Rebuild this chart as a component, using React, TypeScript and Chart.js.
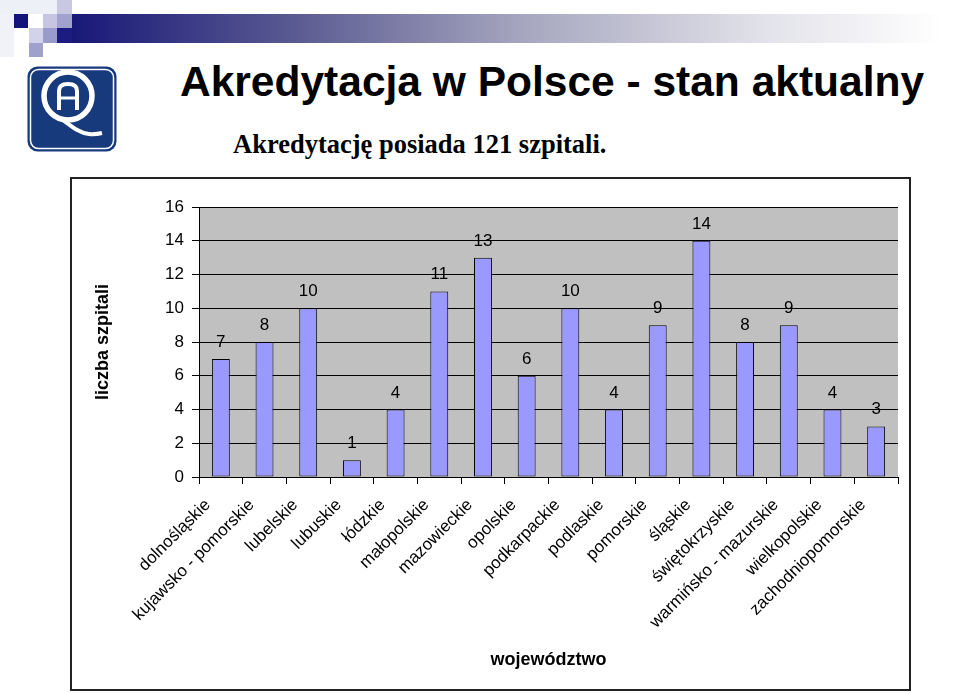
import React, { useEffect, useRef } from "react";
import { Chart, registerables } from "chart.js";

Chart.register(...registerables);

const categories = [
  "dolnośląskie",
  "kujawsko - pomorskie",
  "lubelskie",
  "lubuskie",
  "łódzkie",
  "małopolskie",
  "mazowieckie",
  "opolskie",
  "podkarpackie",
  "podlaskie",
  "pomorskie",
  "śląskie",
  "świętokrzyskie",
  "warmińsko - mazurskie",
  "wielkopolskie",
  "zachodniopomorskie",
];
const hospitals = [7, 8, 10, 1, 4, 11, 13, 6, 10, 4, 9, 14, 8, 9, 4, 3];
const yTicks = [0, 2, 4, 6, 8, 10, 12, 14, 16];

const FONT = "'Liberation Sans', Arial, sans-serif";

const labelPlugin = {
  id: "barValueLabels",
  afterDatasetsDraw(chart: any) {
    const ctx = chart.ctx;
    const meta = chart.getDatasetMeta(0);
    const data = chart.data.datasets[0].data;
    ctx.save();
    ctx.font = "17px " + FONT;
    ctx.fillStyle = "#000";
    ctx.textAlign = "center";
    ctx.textBaseline = "alphabetic";
    meta.data.forEach((el: any, i: number) => {
      ctx.fillText(String(data[i]), el.x, el.y - 12);
    });
    ctx.restore();
  },
};

function BarChart() {
  const ref = useRef<HTMLCanvasElement | null>(null);
  useEffect(() => {
    if (!ref.current) return;
    Chart.defaults.font.family = FONT;
    const chart = new Chart(ref.current, {
      type: "bar",
      data: {
        labels: categories,
        datasets: [
          {
            data: hospitals,
            backgroundColor: "#9999ff",
            borderColor: "#000000",
            borderWidth: 1,
            borderSkipped: false,
            barPercentage: 0.41,
            categoryPercentage: 1,
          },
        ],
      },
      options: {
        animation: false,
        responsive: false,
        maintainAspectRatio: false,
        layout: { padding: { left: 16, top: 28, right: 11, bottom: 14 } },
        plugins: {
          legend: { display: false },
          tooltip: { enabled: false },
        },
        scales: {
          x: {
            afterFit: (s: any) => {
              s.height = 198;
            },
            grid: {
              display: true,
              drawOnChartArea: false,
              drawTicks: true,
              tickLength: 7,
              color: "#000",
              tickColor: "#000",
            },
            border: { display: true, color: "#000", width: 1 },
            ticks: {
              autoSkip: false,
              maxRotation: 45,
              minRotation: 45,
              labelOffset: -13,
              padding: 11,
              color: "#000",
              font: { size: 17, family: FONT },
            },
            title: {
              display: true,
              text: "województwo",
              color: "#000",
              font: { size: 18, weight: "bold", family: FONT },
            },
          },
          y: {
            min: 0,
            max: 16,
            afterFit: (s: any) => {
              s.width = 111;
            },
            afterBuildTicks: (s: any) => {
              s.ticks = yTicks.map((v) => ({ value: v }));
            },
            grid: {
              color: "#000",
              tickColor: "#000",
              lineWidth: 1,
              tickLength: 7,
            },
            border: { display: true, color: "#000", width: 1 },
            ticks: {
              stepSize: 2,
              padding: 8,
              color: "#000",
              font: { size: 17, family: FONT },
            },
            title: {
              display: true,
              text: "liczba szpitali",
              color: "#000",
              font: { size: 18, weight: "bold", family: FONT },
            },
          },
        },
      },
      plugins: [
        {
          id: "plotBg",
          beforeDraw(c: any) {
            const { ctx, chartArea } = c;
            ctx.save();
            ctx.fillStyle = "#c0c0c0";
            ctx.fillRect(
              chartArea.left,
              chartArea.top,
              chartArea.right - chartArea.left,
              chartArea.bottom - chartArea.top
            );
            ctx.restore();
          },
        },
        labelPlugin,
      ],
    } as any);
    return () => chart.destroy();
  }, []);
  return (
    <canvas
      ref={ref}
      width={837}
      height={510}
      style={{ display: "block", width: 837, height: 510 }}
    />
  );
}

function Logo() {
  return (
    <svg
      width={90}
      height={86}
      viewBox="0 0 90 86"
      style={{ position: "absolute", left: 27, top: 66 }}
    >
      <rect x={0.5} y={0.5} width={89} height={85} rx={10} fill="#163a7c" />
      <rect
        x={3.5}
        y={3.5}
        width={83}
        height={79}
        rx={8}
        fill="none"
        stroke="#ffffff"
        strokeWidth={1.5}
      />
      <ellipse
        cx={41}
        cy={30}
        rx={24}
        ry={24}
        fill="none"
        stroke="#ffffff"
        strokeWidth={5.5}
      />
      <path
        d="M 32 44 L 32 25 Q 32 18 41 18 Q 50 18 50 25 L 50 44"
        fill="none"
        stroke="#ffffff"
        strokeWidth={4}
      />
      <path d="M 32 32 L 50 32" stroke="#ffffff" strokeWidth={3} />
      <path
        d="M 36 54 C 44 60, 52 67, 62 68 C 67 68.5, 71 68, 75 67"
        fill="none"
        stroke="#ffffff"
        strokeWidth={4}
      />
    </svg>
  );
}

const squares: [number, number, number, number, string][] = [
  [0, 0, 57, 14, "#eef0f7"],
  [0, 14, 14, 43, "#f1f2f8"],
  [14, 14, 14, 14, "#14147a"],
  [43, 14, 14, 14, "#c6c6e2"],
  [57, 0, 15, 14, "#c8c8e2"],
  [57, 14, 15, 14, "#a2a2ce"],
  [29, 28, 14, 15, "#d2d2ea"],
  [43, 28, 14, 15, "#9a9acb"],
  [57, 28, 15, 15, "#1c1c80"],
  [29, 43, 14, 14, "#a0a0cc"],
];

export default function App() {
  return (
    <div
      style={{
        position: "fixed",
        left: 0,
        top: 0,
        width: 960,
        height: 694,
        background: "#ffffff",
        overflow: "hidden",
      }}
    >
      {squares.map(([x, y, w, h, c], i) => (
        <div
          key={i}
          style={{
            position: "absolute",
            left: x,
            top: y,
            width: w,
            height: h,
            background: c,
          }}
        />
      ))}
      <div
        style={{
          position: "absolute",
          left: 72,
          top: 14,
          width: 888,
          height: 29,
          background:
            "linear-gradient(to right, #181878 0%, #5a5a92 25%, #a4a4be 50%, #e2e2ea 78%, #ffffff 98%)",
        }}
      />
      <Logo />
      <div
        style={{
          position: "absolute",
          left: 180,
          top: 61,
          fontFamily: FONT,
          fontWeight: "bold",
          fontSize: 42.5,
          lineHeight: "42px",
          whiteSpace: "nowrap",
          color: "#000",
        }}
      >
        Akredytacja w Polsce - stan aktualny
      </div>
      <div
        style={{
          position: "absolute",
          left: 233,
          top: 131,
          fontFamily: "'Liberation Serif', 'Times New Roman', serif",
          fontWeight: "bold",
          fontSize: 26.5,
          lineHeight: "26px",
          whiteSpace: "nowrap",
          color: "#000",
        }}
      >
        Akredytację posiada 121 szpitali.
      </div>
      <div
        style={{
          position: "absolute",
          left: 70,
          top: 177,
          width: 841,
          height: 514,
          boxSizing: "border-box",
          border: "2px solid #222222",
          background: "#ffffff",
        }}
      >
        <BarChart />
      </div>
    </div>
  );
}
